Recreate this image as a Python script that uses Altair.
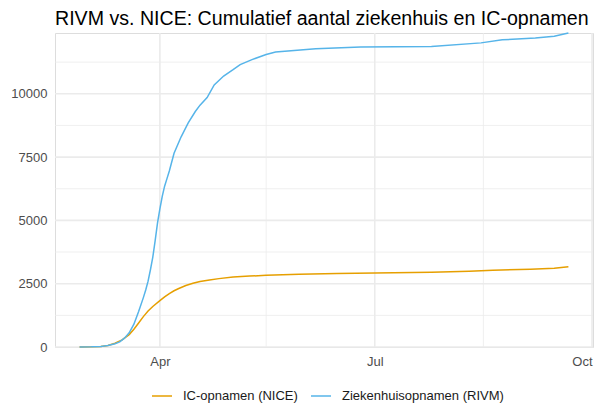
import altair as alt
import pandas as pd

# ---- data ----
ic_dates = ["2020-02-27", "2020-03-03", "2020-03-07", "2020-03-10", "2020-03-13", "2020-03-16",
            "2020-03-19", "2020-03-21", "2020-03-23", "2020-03-25", "2020-03-27", "2020-03-29",
            "2020-04-01", "2020-04-03", "2020-04-05", "2020-04-07", "2020-04-09", "2020-04-12",
            "2020-04-15", "2020-04-18", "2020-04-22", "2020-04-26", "2020-05-02", "2020-05-09",
            "2020-05-16", "2020-05-30", "2020-06-15", "2020-07-01", "2020-07-25", "2020-08-10",
            "2020-08-20", "2020-09-05", "2020-09-15", "2020-09-21"]
ic_values = [0, 5, 20, 60, 150, 280, 490, 700, 950, 1200, 1420, 1600, 1830, 1980, 2110, 2220,
             2310, 2430, 2520, 2590, 2650, 2700, 2760, 2800, 2830, 2870, 2900, 2925, 2950,
             2990, 3030, 3070, 3110, 3170]

zh_dates = ["2020-02-27", "2020-03-03", "2020-03-07", "2020-03-10", "2020-03-13", "2020-03-15",
            "2020-03-17", "2020-03-19", "2020-03-21", "2020-03-23", "2020-03-25", "2020-03-26",
            "2020-03-27", "2020-03-28", "2020-03-29", "2020-03-30", "2020-03-31", "2020-04-01",
            "2020-04-02", "2020-04-03", "2020-04-04", "2020-04-05", "2020-04-07", "2020-04-10",
            "2020-04-13", "2020-04-16", "2020-04-18", "2020-04-21", "2020-04-24", "2020-04-28",
            "2020-05-02", "2020-05-05", "2020-05-10", "2020-05-16", "2020-05-20", "2020-06-06",
            "2020-06-25", "2020-07-25", "2020-08-15", "2020-08-24", "2020-09-07", "2020-09-15",
            "2020-09-21"]
zh_values = [0, 5, 20, 60, 130, 200, 350, 560, 900, 1400, 1950, 2250, 2600, 3050, 3550, 4200,
             4900, 5450, 5950, 6350, 6650, 6950, 7650, 8300, 8850, 9300, 9550, 9850, 10350,
             10700, 10950, 11150, 11350, 11550, 11650, 11780, 11850, 11870, 12010, 12130,
             12200, 12270, 12400]

series_names = ["IC-opnamen (NICE)", "Ziekenhuisopnamen (RIVM)"]
series_colors = ["#E69F00", "#56B4E9"]

y_major = [0, 2500, 5000, 7500, 10000]
y_minor = [1250, 3750, 6250, 8750, 11250]
x_major = ["2020-04-01", "2020-07-01", "2020-10-01"]
x_minor = ["2020-05-16", "2020-08-16"]

title_text = "RIVM vs. NICE: Cumulatief aantal ziekenhuis en IC-opnamen"

# ---- build tables ----
df = pd.concat([
    pd.DataFrame({"datum": ic_dates, "aantal": ic_values, "reeks": series_names[0]}),
    pd.DataFrame({"datum": zh_dates, "aantal": zh_values, "reeks": series_names[1]}),
])

x_scale = alt.Scale(type="utc",
                    domain=[alt.DateTime(year=2020, month=2, date=16, hours=14, utc=True),
                            alt.DateTime(year=2020, month=10, date=1, hours=10, utc=True)])
y_scale = alt.Scale(domain=[0, 12400], nice=False, zero=False)

FONT = "Liberation Sans"
GRID = "#EBEBEB"

ymaj = alt.Chart(pd.DataFrame({"v": y_major})).mark_rule(color=GRID, strokeWidth=1.6).encode(
    y=alt.Y("v:Q", scale=y_scale,
            axis=alt.Axis(title=None, values=y_major, domain=False, ticks=False, grid=False,
                          labelFont=FONT, labelFontSize=13, labelColor="#4D4D4D",
                          labelPadding=8, format="d")))
ymin = alt.Chart(pd.DataFrame({"v": y_minor})).mark_rule(color=GRID, strokeWidth=0.8).encode(
    y=alt.Y("v:Q", scale=y_scale))
xmaj = alt.Chart(pd.DataFrame({"d": x_major})).mark_rule(color=GRID, strokeWidth=1.6).encode(
    x=alt.X("d:T", scale=x_scale,
            axis=alt.Axis(title=None,
                          values=[alt.DateTime(year=2020, month=m, date=1, utc=True) for m in (4, 7, 10)],
                          format="%b", domain=False, ticks=False, grid=False,
                          labelFont=FONT, labelFontSize=13, labelColor="#4D4D4D",
                          labelPadding=8)))
xmin = alt.Chart(pd.DataFrame({"d": x_minor})).mark_rule(color=GRID, strokeWidth=0.8).encode(
    x=alt.X("d:T", scale=x_scale))

lines = alt.Chart(df).mark_line(strokeWidth=1.5).encode(
    x=alt.X("datum:T", scale=x_scale),
    y=alt.Y("aantal:Q", scale=y_scale),
    color=alt.Color("reeks:N",
                    scale=alt.Scale(domain=series_names, range=series_colors),
                    legend=alt.Legend(title=None, orient="none", direction="horizontal",
                                      legendX=96, legendY=352,
                                      symbolType="stroke", symbolSize=400,
                                      symbolStrokeWidth=1.5,
                                      labelFont=FONT, labelFontSize=13, labelColor="#1A1A1A",
                                      labelLimit=400, labelOffset=10, columnPadding=10)),
)

chart = alt.layer(ymin, ymaj, xmin, xmaj, lines).properties(
    width=538, height=314,
    autosize=alt.AutoSizeParams(type="none"),
    padding={"left": 47, "top": 25, "right": 3, "bottom": 57},
    title=alt.TitleParams(title_text, anchor="start", frame="group", font=FONT, fontSize=19.6,
                          fontWeight="normal", color="#000000", offset=0),
).configure_view(stroke=None).configure(background="white")

chart.save("out.html", embed_options={"renderer": "svg", "actions": False})
